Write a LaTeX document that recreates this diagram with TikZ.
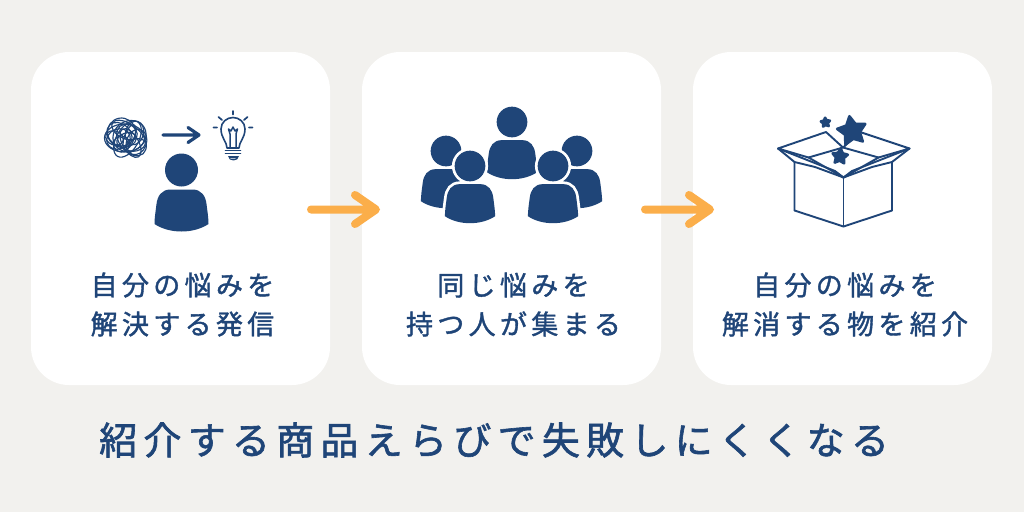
\documentclass[tikz,border=0pt]{standalone}
\usepackage{fontspec}
\setmainfont{Noto Sans CJK JP}
\newfontfamily\jpcard[LetterSpace=16,FakeBold=1.4]{Noto Sans CJK JP}
\newfontfamily\jpfoot[LetterSpace=16.5,FakeBold=1.6]{Noto Sans CJK JP}
\usetikzlibrary{shapes.geometric}
\definecolor{bgc}{HTML}{F2F1EE}
\definecolor{navy}{HTML}{1F4578}
\definecolor{orangec}{HTML}{FBAE4A}
\tikzset{
  card/.style={fill=white,draw=none,rounded corners=38pt,minimum width=299pt,minimum height=333pt,inner sep=0pt},
  cardtext/.style={text=navy,font=\jpcard\fontsize{27}{39}\selectfont,align=center,inner sep=0pt},
  foottext/.style={text=navy,font=\jpfoot\fontsize{38}{40}\selectfont,inner sep=0pt,anchor=west},
  flow/.style={draw=orangec,line width=8pt,line cap=round,line join=round},
  ink/.style={draw=navy,line width=2pt,line join=round,line cap=round},
  thinink/.style={draw=navy,line width=1.15pt,line cap=round},
  starshape/.style={star,star points=5,star point ratio=1.9,fill=navy,draw=navy,line width=2.6pt,line join=round,inner sep=0pt},
}
\newcommand{\personshape}{(0,0) circle (16.5)
  (-11,19.5) .. controls (-20,19.5) and (-24,26) .. (-25,34)
      .. controls (-26,42) and (-27,48) .. (-27,54)
      .. controls (-12,64) and (12,64) .. (27,54)
      .. controls (27,48) and (26,42) .. (25,34)
      .. controls (24,26) and (20,19.5) .. (11,19.5) -- cycle}
\newcommand{\personicon}[4][none]{%
  \begin{scope}[shift={(#2,#3)},scale=#4]
    \path[draw=#1,line width=5.5pt] \personshape;
    \fill[navy] \personshape;
  \end{scope}}
\begin{document}
\begin{tikzpicture}[x=1pt,y=-1pt]
\useasboundingbox (0,0) rectangle (1024,512);
\fill[bgc] (0,0) rectangle (1024,512);
\node[card] (c1) at (180.5,218.5) {};
\node[card] (c2) at (511.5,218.5) {};
\node[card] (c3) at (842.5,218.5) {};

% scribble
\begin{scope}[shift={(126.5,137)}]
\foreach \r/\a/\b/\cx/\cy in {20/14/0/-2/1,17/15/30/3/-1,20/11/60/1/2,14/14/100/-5/-5,18/12/130/5/3,12/10/20/-8/2,12/9/75/8/-4,10/13/160/10/5,14/8/-30/-2/-7,8/8/0/-5/7,16/8/-60/4/6,11/14/45/-7/-2,10/6/15/9/8,9/7/-20/-12/1,13/5/70/3/0,7/10/110/0/3}{
  \draw[thinink,shift={(\cx,\cy)},rotate=\b] (0,0) ellipse ({\r} and {\a});
}
\end{scope}
% small arrow
\coordinate (sa) at (163,135); \coordinate (sb) at (198,135);
\draw[draw=navy,line width=3.2pt,line cap=round,line join=round] (sa) -- (sb) (188,127.5) -- (199,135) -- (188,142.5);
% bulb
\begin{scope}[shift={(233,135)}]
 \draw[ink,line width=1.6pt] (-6,13) .. controls (-6,7) and (-12,3) .. (-12,-6) .. controls (-12,-13) and (-6,-17.5) .. (0,-17.5)
   .. controls (6,-17.5) and (12,-13) .. (12,-6) .. controls (12,3) and (6,7) .. (6,13) -- cycle;
 \draw[ink,line width=1.5pt] (-3,13) -- (-3,-1) -- (-4.5,-6) -- (-2,-4) -- (0,-8) -- (2,-4) -- (4.5,-6) -- (3,-1) -- (3,13);
 \draw[ink,line width=1.6pt] (-7.5,15.5) -- (7.5,15.5) (-7.5,18.5) -- (7.5,18.5);
 \fill[navy] (-5.5,21) .. controls (-5.5,27) and (5.5,27) .. (5.5,21) -- cycle;
 \fill[white] (-3,22.7) .. controls (-3,23.7) and (3,23.7) .. (3,22.7) -- cycle;
 \draw[ink,line width=1.7pt] (0,-24) -- (0,-20.5) (-14.5,-18) -- (-11,-15) (14.5,-18) -- (11,-15) (-19.5,-7.5) -- (-16,-7.5) (19.5,-7.5) -- (16,-7.5);
\end{scope}
\personicon{181.5}{170}{1}

% group
\personicon{446}{151}{0.93}
\personicon{577}{151}{0.93}
\personicon{512}{122}{0.93}
\personicon[white]{470}{166}{0.93}
\personicon[white]{553}{166}{0.93}

% box
\begin{scope}[ink,line width=1.9pt]
 \draw (794.5,162) -- (794.5,210.5) -- (843.5,226.5) -- (892,210.5) -- (892,162);
 \draw (843.5,178) -- (843.5,226.5);
 \draw (778,148.5) -- (826,132) -- (843,147.5) -- (808.5,157.5) -- cycle;
 \draw (909.5,148.5) -- (860,132) -- (843,147.5) -- (878.5,157.5) -- cycle;
 \draw (778,148.5) -- (835,171) -- (843.5,177.5) -- (852,171) -- (909.5,148.5);
 \draw (808.5,157.5) -- (843.5,177.5) -- (878.5,157.5);
 \draw (778,148.5) -- (794.5,162) -- (815,167) -- (843.5,177.5) -- (872,167) -- (892,162) -- (909.5,148.5);
\end{scope}
\node[starshape,minimum size=30pt,rotate=10] (s1) at (852,131) {};
\node[starshape,minimum size=16pt,rotate=-5] (s2) at (840,156.5) {};
\node[starshape,minimum size=9.5pt,rotate=5] (s3) at (825.5,122.5) {};

% flow arrows
\coordinate (a1s) at (311,209.5); \coordinate (a1e) at (375,209.5);
\coordinate (a2s) at (645,209.5); \coordinate (a2e) at (709,209.5);
\draw[flow] (a1s) -- (a1e) (355,195) -- (376,209.5) -- (355,224);
\draw[flow] (a2s) -- (a2e) (689,195) -- (710,209.5) -- (689,224);

\node[cardtext] (t1) at (182.5,304.5) {自分の悩みを\\解決する発信};
\node[cardtext] (t2) at (513.5,304.5) {同じ悩みを\\持つ人が集まる};
\node[cardtext] (t3) at (845,304.5) {自分の悩みを\\解消する物を紹介};
\node[foottext] (t4) at (99,440) {紹介する商品えらびで失敗しにくくなる};
\end{tikzpicture}
\end{document}
